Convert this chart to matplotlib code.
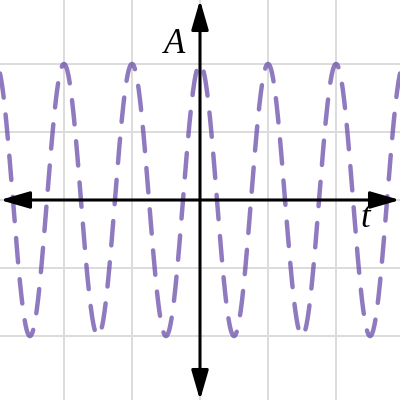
import numpy as np
import matplotlib.pyplot as plt

# curve parameters: A = amplitude * cos(2*pi*t/period)
amplitude = 2.0
period = 1.0
phase = 0.0

x_range = [-2.94, 2.94]
y_range = [-2.94, 2.94]
grid_ticks = [-2, -1, 0, 1, 2]

t = np.linspace(x_range[0], x_range[1], 2000)
A = amplitude * np.cos(2 * np.pi * (t - phase) / period)

fig = plt.figure(figsize=(4, 4), dpi=100)
ax = fig.add_axes([0, 0, 1, 1])
ax.set_xlim(x_range)
ax.set_ylim(y_range)

for g in grid_ticks:
    ax.axvline(g, color='#dcdcdc', lw=1.4, zorder=0)
    ax.axhline(g, color='#dcdcdc', lw=1.4, zorder=0)

ax.plot(t, A, color='#6042a6', alpha=0.7, lw=3.2, ls=(0, (5.5, 3.8)),
        dash_capstyle='round', zorder=2)

arrow = dict(arrowstyle='<|-|>,head_length=18,head_width=5.2', color='black',
             lw=2.2, shrinkA=0, shrinkB=0, mutation_scale=1)
ax.annotate('', xy=(x_range[1], 0), xytext=(x_range[0], 0), arrowprops=arrow, zorder=3)
ax.annotate('', xy=(0, y_range[1]), xytext=(0, y_range[0]), arrowprops=arrow, zorder=3)

ax.text(-0.37, 2.28, 'A', family='Liberation Serif', style='italic', fontsize=25,
        ha='center', va='center')
ax.text(2.43, -0.27, 't', family='Liberation Serif', style='italic', fontsize=25,
        ha='center', va='center')

ax.axis('off')
fig.savefig('out.png', dpi=100)
